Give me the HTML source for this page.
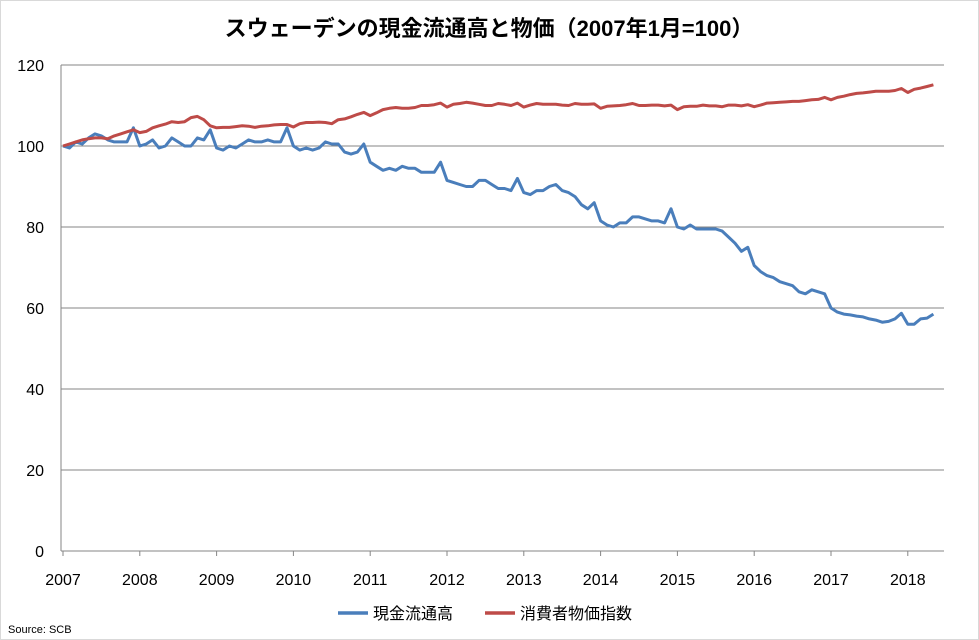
<!DOCTYPE html>
<html><head><meta charset="utf-8">
<style>
html,body{margin:0;padding:0;background:#fff;}
svg{display:block;font-family:"Liberation Sans","Noto Sans CJK JP",sans-serif;}
</style></head>
<body>
<svg id="chart" width="979" height="640">
<rect x="0.5" y="0.5" width="978" height="639" fill="#fff" stroke="#d9d9d9"/>
<text x="489" y="36" text-anchor="middle" font-size="22" font-weight="bold" fill="#000">スウェーデンの現金流通高と物価（2007年1月=100）</text>
<g id="grid"></g>
<g id="axes"></g>
<g id="series"></g>
<g>
<line x1="338" y1="613" x2="368" y2="613" stroke="#4a7ebb" stroke-width="3.5"/>
<text x="373" y="619" font-size="16" fill="#000">現金流通高</text>
<line x1="485" y1="613" x2="515" y2="613" stroke="#be4b48" stroke-width="3.5"/>
<text x="520" y="619" font-size="16" fill="#000">消費者物価指数</text>
</g>
<text x="8" y="633" font-size="11" fill="#000">Source: SCB</text>
</svg>
<script>
const yearLabels=["2007","2008","2009","2010","2011","2012","2013","2014","2015","2016","2017","2018"];
const yTicks=[0,20,40,60,80,100,120];
const currency=[100,99.5,101,100.5,102,103,102.5,101.5,101,101,101,104.5,
100,100.5,101.5,99.5,100,102,101,100,100,102,101.5,104,
99.5,99,100,99.5,100.5,101.5,101,101,101.5,101,101,104.5,
100,99,99.5,99,99.5,101,100.5,100.5,98.5,98,98.5,100.5,
96,95,94,94.5,94,95,94.5,94.5,93.5,93.5,93.5,96,
91.5,91,90.5,90,90,91.5,91.5,90.5,89.5,89.5,89,92,
88.5,88,89,89,90,90.5,89,88.5,87.5,85.5,84.5,86,
81.5,80.5,80,81,81,82.5,82.5,82,81.5,81.5,81,84.5,
80,79.5,80.5,79.5,79.5,79.5,79.5,79,77.5,76,74,75,
70.5,69,68,67.5,66.5,66,65.5,64,63.5,64.5,64,63.5,
60,59,58.5,58.3,58,57.8,57.3,57,56.5,56.7,57.3,58.7,
56,56,57.3,57.5,58.5];
const cpi=[100,100.5,101,101.5,101.8,102,102,101.8,102.5,103,103.5,104,
103.3,103.6,104.5,105,105.4,106,105.8,106,107,107.3,106.5,105,
104.5,104.6,104.6,104.8,105,104.9,104.6,104.9,105,105.2,105.3,105.3,
104.7,105.5,105.8,105.8,105.9,105.8,105.5,106.5,106.7,107.2,107.8,108.3,
107.5,108.2,109,109.3,109.5,109.3,109.3,109.5,110,110,110.2,110.6,
109.6,110.3,110.5,110.8,110.6,110.3,110,110,110.5,110.3,110,110.6,
109.6,110.1,110.5,110.3,110.3,110.3,110.1,110,110.5,110.3,110.3,110.4,
109.3,109.8,109.9,110,110.2,110.5,110,110,110.1,110.1,109.9,110.1,
109,109.7,109.8,109.8,110.1,109.9,109.9,109.7,110.1,110.1,109.9,110.2,
109.7,110.1,110.6,110.7,110.8,110.9,111,111,111.2,111.4,111.5,112,
111.4,112,112.3,112.7,113,113.1,113.3,113.5,113.5,113.5,113.7,114.2,
113.2,114,114.3,114.7,115.1];
const NS="http://www.w3.org/2000/svg";
const X0=61,X1=944,Y0=551,Y1=65;
function xm(i){return 63+i*6.4;}
function yv(v){return Y0-(v/120)*(Y0-Y1);}
function mk(t,a,p){const e=document.createElementNS(NS,t);for(const k in a)e.setAttribute(k,a[k]);p.appendChild(e);return e;}
const grid=document.getElementById('grid'),axes=document.getElementById('axes'),ser=document.getElementById('series');
yTicks.forEach(v=>{
 const y=yv(v);
 if(v>0){const l=mk('line',{x1:X0,x2:X1,y1:y,y2:y,stroke:'#868686','stroke-width':1},grid);
 
 }
 const t=mk('text',{x:44,y:y+6,'text-anchor':'end','font-size':16,fill:'#000'},axes);
 t.textContent=v;
 
 
});
const xa=mk('line',{x1:X0,x2:X1,y1:Y0,y2:Y0,stroke:'#868686','stroke-width':1},axes);


const ya=mk('line',{x1:X0,x2:X0,y1:Y1,y2:Y0,stroke:'#868686','stroke-width':1},axes);


yearLabels.forEach((lab,i)=>{
 const x=xm(i*12);
 const tk=mk('line',{x1:x,x2:x,y1:Y0,y2:Y0+5,stroke:'#868686'},axes);
 
 
 const t=mk('text',{x:x,y:Y0+34,'text-anchor':'middle','font-size':16,fill:'#000'},axes);
 t.textContent=lab;
 
 
});
function line(data,color,name){
 const d=data.map((v,i)=>(i?'L':'M')+xm(i).toFixed(1)+','+yv(v).toFixed(1)).join('');
 const p=mk('path',{d:d,fill:'none',stroke:color,'stroke-width':3,'stroke-linejoin':'round'},ser);
 
 
}
line(currency,'#4a7ebb','currency-line');
line(cpi,'#be4b48','cpi-line');
</script>
</body></html>
